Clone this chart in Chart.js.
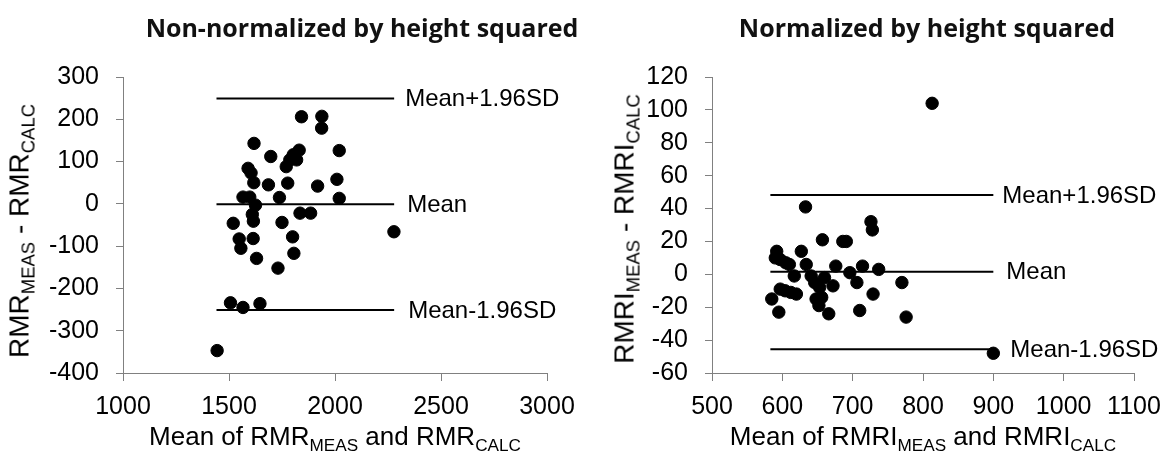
<!DOCTYPE html>
<html>
<head>
<meta charset="utf-8">
<script src="https://cdn.jsdelivr.net/npm/chart.js@4.4.1/dist/chart.umd.min.js"></script>
<style>
  html, body { margin: 0; padding: 0; background: #fff; }
  #fig { position: relative; width: 1165px; height: 455px; overflow: hidden;
         font-family: "Liberation Sans", Arial, sans-serif; color: #000; }
  #fig canvas { position: absolute; top: 0; }
  .t { position: absolute; transform: translate(-50%, -50%); white-space: nowrap; }
  .title { font-family: "Open Sans", sans-serif; font-weight: 700; font-size: 25px; line-height: 25px; color: #111; }
  .xt { font-size: 26px; line-height: 26px; }
  .yt { font-size: 28px; line-height: 28px; transform: translate(-50%, -50%) rotate(-90deg); }
  sub { font-size: 0.66em; vertical-align: baseline; position: relative; top: 0.35em; }
</style>
</head>
<body>
<div id="fig">
  <canvas id="left" width="582" height="455" style="left:0"></canvas>
  <canvas id="right" width="583" height="455" style="left:582px"></canvas>

  <div class="t title" style="left:362px; top:27px">Non-normalized by height squared</div>
  <div class="t title" style="left:927px; top:27px">Normalized by height squared</div>

  <div class="t yt" style="left:21px; top:231px">RMR<sub>MEAS</sub> - RMR<sub>CALC</sub></div>
  <div class="t yt" style="left:626px; top:229px">RMRI<sub>MEAS</sub> - RMRI<sub>CALC</sub></div>

  <div class="t xt" style="left:335px; top:437px">Mean of RMR<sub>MEAS</sub> and RMR<sub>CALC</sub></div>
  <div class="t xt" style="left:923px; top:437px">Mean of RMRI<sub>MEAS</sub> and RMRI<sub>CALC</sub></div>
</div>

<script>
// Bland-Altman data: x = mean of the two methods, y = difference.
const leftMean = [1444, 1507, 1566, 1646, 1520, 1548, 1556, 1566, 1598, 1590, 1604, 1617,
  1618, 1625, 1610, 1615, 1614, 1630, 1686, 1697, 1731, 1738, 1750, 1777, 1770, 1787,
  1803, 1819, 1831, 1800, 1806, 1835, 1885, 1842, 1918, 1938, 1937, 2009, 2020, 2020, 2278];
const leftDiff = [-347, -234, -245, -236, -46, -83, -105, 16, 16, 84, 73, 50,
  143, -3, -25, -41, -82, -129, 45, 112, -152, 15, -44, 49, 88, 104,
  116, 104, 127, -78, -117, -22, -22, 206, 42, 207, 179, 58, 126, 13, -66];
const leftLimits = [249, -1, -251];
const leftLimitSpan = [1441, 2279];

const rightMean = [585, 595, 592, 590, 597, 605, 610, 597, 604, 612, 620, 617, 627, 633,
  634, 641, 646, 648, 652, 656, 653, 657, 660, 666, 672, 676, 686, 691, 696, 706, 710,
  714, 726, 728, 729, 737, 770, 776, 813, 900];
const rightDiff = [-15, -23, 14, 10, 9, 7, 6, -9, -10, -11, -12, -1, 14, 41,
  6, -1, -5, -15, -19, -14, -8, 21, -2, -24, -7, 5, 20, 20, 1, -5, -22,
  5, 32, 27, -12, 3, -5, -26, 104, -48];
const rightLimits = [48.2, 1.5, -45.6];
const rightLimitSpan = [583, 900];

const limitLabels = ['Mean+1.96SD', 'Mean', 'Mean-1.96SD'];

const leftXTicks = [1000, 1500, 2000, 2500, 3000];
const leftYTicks = [-400, -300, -200, -100, 0, 100, 200, 300];
const rightXTicks = [500, 600, 700, 800, 900, 1000, 1100];
const rightYTicks = [-60, -40, -20, 0, 20, 40, 60, 80, 100, 120];

const FONT = '"Liberation Sans", Arial, sans-serif';
const AXIS = '#808080';

// Text after the right end of each limit line.
const endLabels = {
  id: 'endLabels',
  afterDatasetsDraw(chart) {
    const { ctx } = chart;
    ctx.save();
    ctx.font = '24px ' + FONT;
    ctx.fillStyle = '#000';
    ctx.textBaseline = 'middle';
    ctx.textAlign = 'left';
    chart.data.datasets.forEach((ds, i) => {
      if (!ds.endLabel) return;
      const pts = chart.getDatasetMeta(i).data;
      const last = pts[pts.length - 1];
      ctx.fillText(ds.endLabel, last.x + ds.labelGap, last.y + 1);
    });
    ctx.restore();
  },
};

function blandAltman(id, means, diffs, limits, span, xTicks, yTicks, g) {
  const datasets = [{
    data: means.map((m, i) => ({ x: m, y: diffs[i] })),
    backgroundColor: '#000', borderColor: '#000', borderWidth: 1, pointRadius: 6.2,
  }];
  limits.forEach((v, i) => {
    datasets.unshift({
      data: span.map(x => ({ x, y: v })),
      showLine: true, borderColor: '#000', borderWidth: 2, pointRadius: 0,
      endLabel: limitLabels[i], labelGap: g.gaps[i],
    });
  });

  const axis = (ticks, fit) => ({
    type: 'linear',
    min: ticks[0], max: ticks[ticks.length - 1],
    afterBuildTicks: s => { s.ticks = ticks.map(value => ({ value })); },
    afterFit: fit,
    grid: { drawOnChartArea: false, drawTicks: true, color: AXIS, lineWidth: 1 },
    border: { display: true, color: AXIS, width: 1 },
    ticks: { color: '#000', font: { family: FONT, size: 25 }, autoSkip: false,
             callback: v => String(v) },
  });

  const x = axis(xTicks, s => { s.height = g.xHeight; s.paddingLeft = 0; s.paddingRight = 0; });
  x.grid.tickLength = 8;
  x.ticks.padding = 11;
  x.ticks.maxRotation = 0;
  const y = axis(yTicks, s => { s.width = g.yWidth; s.paddingTop = 0; s.paddingBottom = 0; });
  y.grid.tickLength = 7;
  y.ticks.padding = 17;

  return new Chart(document.getElementById(id), {
    type: 'scatter',
    data: { datasets },
    options: {
      responsive: false,
      animation: false,
      layout: { padding: { top: g.top, right: g.right, left: 0, bottom: 0 } },
      plugins: { legend: { display: false }, tooltip: { enabled: false } },
      scales: { x, y },
    },
    plugins: [endLabels],
  });
}

blandAltman('left', leftMean, leftDiff, leftLimits, leftLimitSpan, leftXTicks, leftYTicks,
  { yWidth: 123, xHeight: 82, top: 77, right: 35, gaps: [11, 13, 14] });
blandAltman('right', rightMean, rightDiff, rightLimits, rightLimitSpan, rightXTicks, rightYTicks,
  { yWidth: 130, xHeight: 82, top: 77, right: 31, gaps: [9, 13, 17] });
</script>
</body>
</html>
